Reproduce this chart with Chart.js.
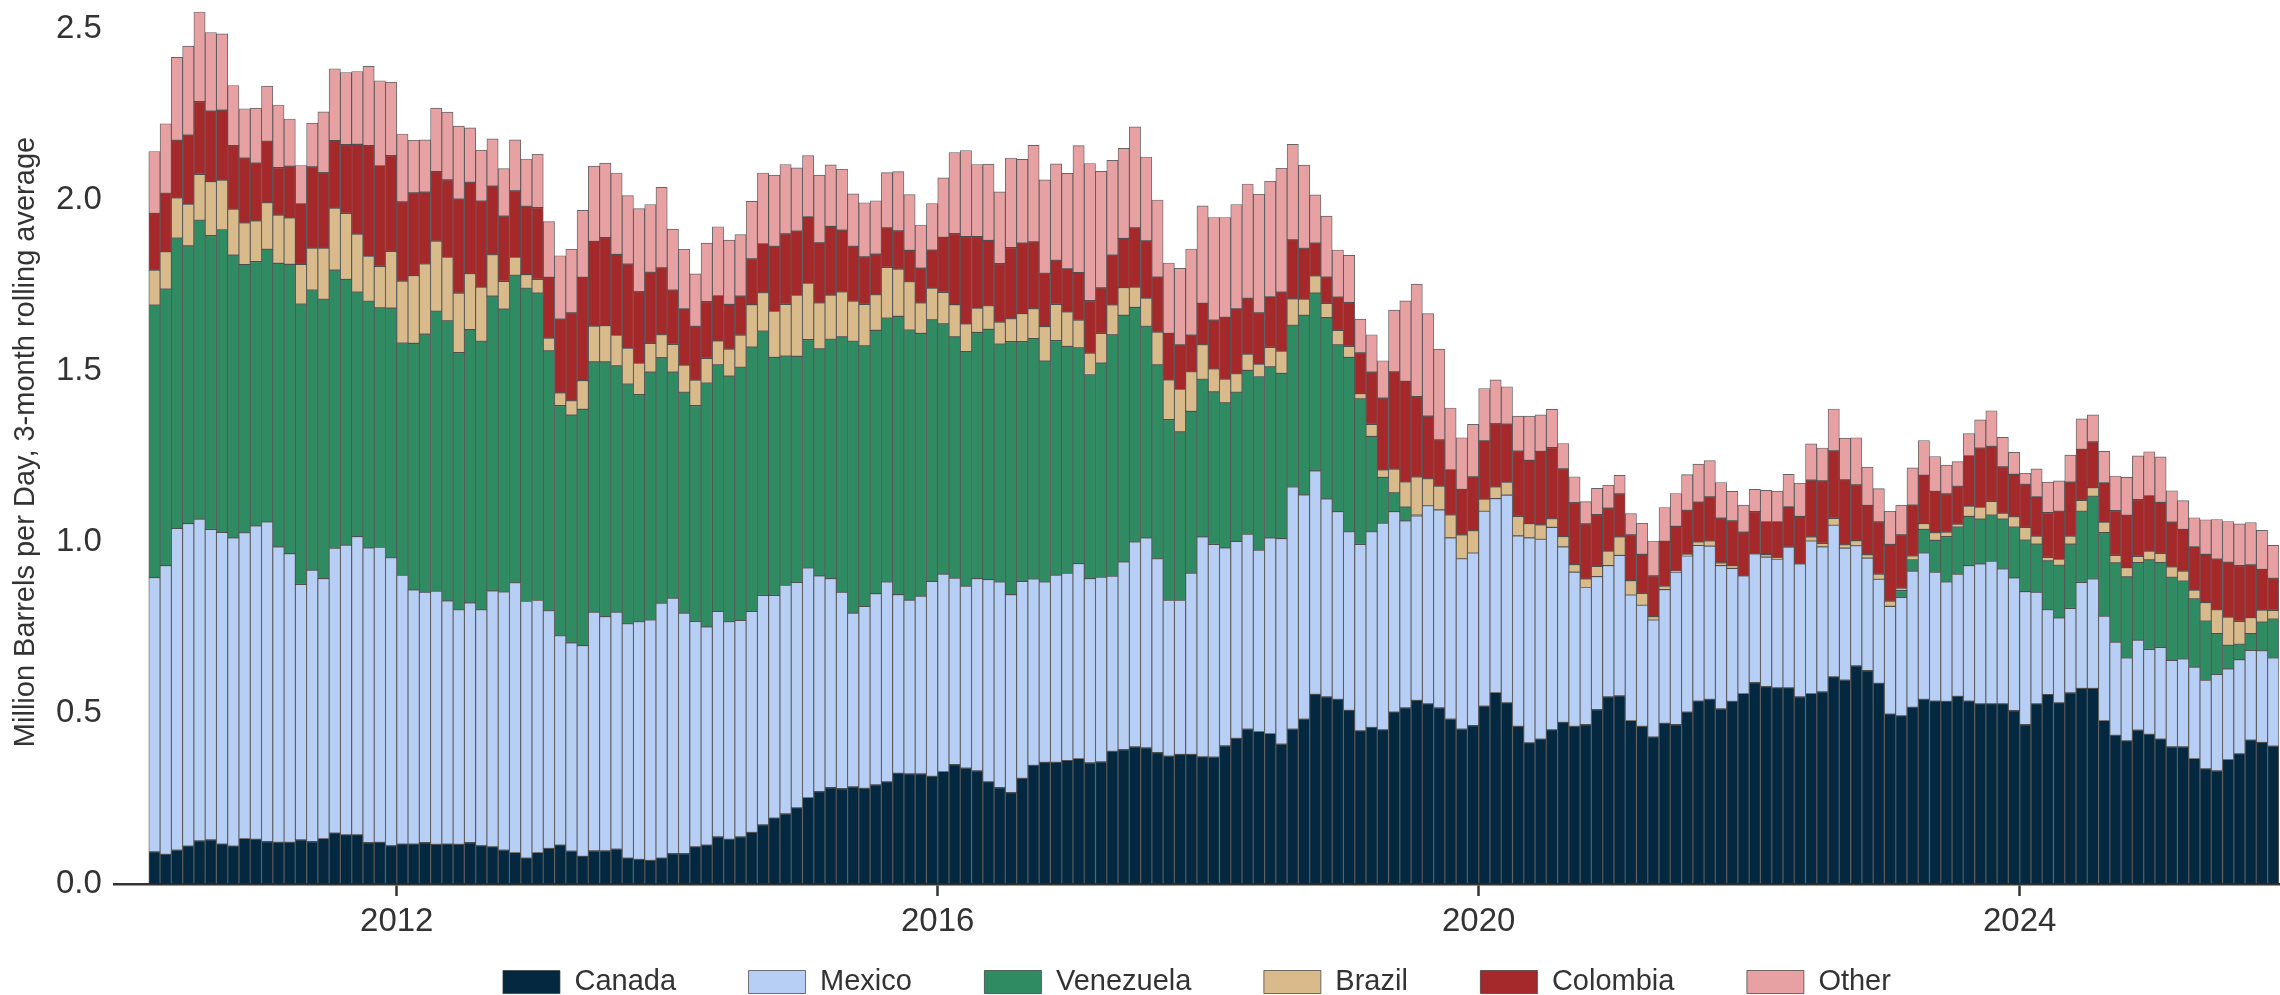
<!DOCTYPE html>
<html>
<head>
<meta charset="utf-8">
<script src="https://cdn.jsdelivr.net/npm/chart.js@4/dist/chart.umd.min.js"></script>
<style>
  html, body { margin: 0; padding: 0; background: #fff; }
  #wrap { width: 2280px; height: 995px; }
</style>
</head>
<body>
<div id="wrap"><canvas id="chart"></canvas></div>
<script>
// monthly, 3-month rolling average, million barrels per day
const months = [
  '2010-03','2010-04','2010-05','2010-06','2010-07','2010-08','2010-09','2010-10','2010-11','2010-12',
  '2011-01','2011-02','2011-03','2011-04','2011-05','2011-06','2011-07','2011-08','2011-09','2011-10','2011-11','2011-12',
  '2012-01','2012-02','2012-03','2012-04','2012-05','2012-06','2012-07','2012-08','2012-09','2012-10','2012-11','2012-12',
  '2013-01','2013-02','2013-03','2013-04','2013-05','2013-06','2013-07','2013-08','2013-09','2013-10','2013-11','2013-12',
  '2014-01','2014-02','2014-03','2014-04','2014-05','2014-06','2014-07','2014-08','2014-09','2014-10','2014-11','2014-12',
  '2015-01','2015-02','2015-03','2015-04','2015-05','2015-06','2015-07','2015-08','2015-09','2015-10','2015-11','2015-12',
  '2016-01','2016-02','2016-03','2016-04','2016-05','2016-06','2016-07','2016-08','2016-09','2016-10','2016-11','2016-12',
  '2017-01','2017-02','2017-03','2017-04','2017-05','2017-06','2017-07','2017-08','2017-09','2017-10','2017-11','2017-12',
  '2018-01','2018-02','2018-03','2018-04','2018-05','2018-06','2018-07','2018-08','2018-09','2018-10','2018-11','2018-12',
  '2019-01','2019-02','2019-03','2019-04','2019-05','2019-06','2019-07','2019-08','2019-09','2019-10','2019-11','2019-12',
  '2020-01','2020-02','2020-03','2020-04','2020-05','2020-06','2020-07','2020-08','2020-09','2020-10','2020-11','2020-12',
  '2021-01','2021-02','2021-03','2021-04','2021-05','2021-06','2021-07','2021-08','2021-09','2021-10','2021-11','2021-12',
  '2022-01','2022-02','2022-03','2022-04','2022-05','2022-06','2022-07','2022-08','2022-09','2022-10','2022-11','2022-12',
  '2023-01','2023-02','2023-03','2023-04','2023-05','2023-06','2023-07','2023-08','2023-09','2023-10','2023-11','2023-12',
  '2024-01','2024-02','2024-03','2024-04','2024-05','2024-06','2024-07','2024-08','2024-09','2024-10','2024-11','2024-12',
  '2025-01','2025-02','2025-03','2025-04','2025-05','2025-06','2025-07','2025-08','2025-09','2025-10','2025-11'
];

const canada = [
  .094,.087,.099,.111,.126,.129,.117,.111,.133,.131,
  .124,.122,.122,.129,.124,.133,.149,.144,.144,.121,.122,.112,
  .117,.117,.121,.116,.117,.116,.121,.112,.109,.099,.092,.076,
  .092,.104,.114,.096,.081,.097,.097,.102,.076,.072,.069,.076,
  .089,.089,.109,.114,.138,.131,.138,.151,.173,.193,.205,.223,
  .253,.270,.282,.279,.284,.280,.290,.299,.324,.322,.322,.315,
  .329,.349,.339,.331,.299,.282,.267,.309,.347,.356,.356,.361,
  .367,.354,.357,.388,.393,.401,.398,.384,.374,.379,.379,.372,
  .371,.404,.426,.453,.446,.440,.409,.453,.482,.555,.547,.540,
  .508,.448,.458,.451,.503,.515,.537,.527,.515,.482,.453,.463,
  .520,.560,.530,.461,.413,.424,.451,.473,.461,.466,.510,.547,
  .550,.478,.461,.430,.470,.466,.503,.535,.540,.512,.534,.557,
  .589,.577,.574,.574,.547,.557,.562,.606,.596,.638,.624,.587,
  .497,.492,.517,.540,.535,.534,.549,.535,.527,.527,.527,.507,
  .466,.527,.554,.530,.559,.572,.572,.478,.435,.419,.450,.438,
  .424,.401,.401,.367,.337,.331,.364,.381,.421,.414,.403
];
const mexico = [
  .802,.844,.941,.943,.941,.908,.911,.901,.894,.916,
  .935,.864,.844,.747,.794,.760,.832,.847,.872,.862,.862,.842,
  .785,.743,.732,.740,.711,.686,.701,.690,.748,.755,.789,.750,
  .737,.695,.612,.609,.616,.698,.685,.693,.685,.695,.703,.745,
  .747,.703,.659,.638,.659,.636,.633,.646,.671,.651,.668,.659,
  .671,.631,.611,.574,.508,.532,.559,.584,.522,.508,.520,.570,
  .577,.545,.532,.562,.591,.601,.579,.576,.545,.527,.547,.547,
  .570,.539,.540,.512,.549,.599,.614,.567,.455,.450,.530,.643,
  .622,.579,.576,.569,.530,.572,.601,.708,.656,.653,.579,.549,
  .522,.545,.572,.604,.586,.547,.539,.579,.579,.530,.498,.505,
  .570,.567,.607,.557,.599,.584,.592,.513,.451,.401,.389,.384,
  .411,.367,.354,.342,.391,.446,.456,.455,.448,.419,.389,.344,
  .376,.379,.376,.411,.389,.446,.424,.443,.386,.351,.329,.304,
  .315,.346,.398,.428,.376,.349,.356,.396,.409,.416,.394,.388,
  .389,.326,.248,.248,.247,.310,.320,.305,.272,.242,.263,.248,
  .268,.253,.257,.267,.258,.282,.265,.275,.262,.268,.258
];
const venezuela = [
  .797,.809,.849,.812,.874,.859,.886,.827,.784,.773,
  .797,.829,.846,.820,.819,.817,.814,.777,.715,.721,.701,.730,
  .680,.721,.755,.819,.819,.752,.799,.785,.862,.827,.899,.916,
  .899,.760,.673,.666,.691,.732,.745,.720,.701,.664,.725,.718,
  .661,.646,.631,.713,.721,.718,.740,.773,.773,.696,.671,.661,
  .668,.664,.700,.747,.795,.762,.770,.772,.814,.790,.768,.765,
  .732,.706,.686,.720,.732,.696,.740,.701,.703,.646,.686,.664,
  .631,.597,.626,.706,.721,.686,.619,.567,.529,.493,.473,.461,
  .446,.424,.436,.480,.508,.500,.483,.473,.525,.520,.530,.488,
  .510,.426,.279,.134,.055,.040,.003,0,0,0,0,0,
  0,0,0,0,0,0,0,0,0,0,0,0,
  0,0,0,0,0,0,0,0,0,0,0,0,
  0,0,0,0,0,0,0,0,0,0,0,0,
  0,.020,.034,.069,.094,.133,.139,.144,.131,.136,.146,.149,
  .151,.141,.143,.154,.188,.208,.242,.245,.232,.237,.227,.262,
  .248,.243,.228,.200,.174,.119,.069,.045,.049,.084,.114
];
const brazil = [
  .102,.109,.117,.121,.134,.158,.144,.134,.122,.119,
  .136,.141,.136,.116,.122,.149,.181,.193,.169,.131,.121,.166,
  .181,.198,.205,.205,.185,.174,.164,.158,.121,.081,.052,.040,
  .040,.037,.037,.042,.084,.104,.106,.089,.104,.091,.084,.067,
  .081,.079,.074,.072,.070,.079,.094,.124,.112,.134,.151,.178,
  .164,.134,.129,.131,.117,.121,.104,.148,.138,.141,.089,.092,
  .092,.094,.081,.070,.069,.064,.067,.082,.087,.101,.106,.101,
  .081,.062,.087,.087,.081,.059,.081,.096,.116,.124,.116,.101,
  .067,.069,.054,.047,.035,.057,.065,.077,.047,.050,.042,.042,
  .032,.015,.035,.022,.069,.074,.111,.079,.069,.067,.070,.065,
  .035,.034,.037,.057,.042,.042,.025,.030,.022,.025,.030,.042,
  .054,.042,.035,.010,.010,.003,.005,.010,.015,.008,.008,0,
  0,.007,.003,0,0,.012,.010,.020,.010,.015,.010,.015,
  .015,.007,.010,.017,.022,.013,.008,.029,.034,.040,.017,.030,
  .037,.023,.010,.017,.023,.032,.025,.029,.022,.027,.018,.025,
  .027,.030,.029,.025,.054,.070,.082,.067,.047,.035,.025
];
const colombia = [
  .166,.171,.169,.203,.213,.206,.205,.186,.190,.169,
  .180,.139,.151,.178,.238,.221,.198,.201,.263,.324,.295,.280,
  .232,.242,.210,.203,.227,.275,.267,.252,.201,.191,.195,.200,
  .210,.178,.216,.257,.302,.248,.257,.237,.247,.210,.208,.196,
  .159,.166,.158,.166,.133,.131,.114,.134,.144,.191,.206,.188,
  .196,.176,.201,.181,.161,.139,.119,.116,.112,.092,.102,.112,
  .161,.208,.255,.210,.191,.171,.208,.206,.196,.156,.129,.126,
  .139,.154,.133,.146,.144,.174,.169,.161,.136,.131,.107,.121,
  .143,.181,.190,.164,.151,.149,.173,.173,.149,.096,.077,.097,
  .128,.119,.153,.210,.285,.294,.235,.183,.136,.133,.133,.158,
  .171,.185,.171,.191,.185,.215,.208,.198,.181,.161,.151,.126,
  .126,.134,.114,.119,.131,.131,.129,.117,.129,.131,.131,.128,
  .124,.097,.107,.119,.139,.166,.183,.198,.190,.163,.144,.153,
  .166,.156,.149,.141,.121,.112,.111,.149,.174,.161,.136,.124,
  .126,.116,.131,.141,.158,.149,.134,.117,.131,.153,.166,.163,
  .149,.131,.122,.128,.141,.148,.161,.163,.154,.119,.094
];
const other = [
  .181,.203,.242,.260,.262,.230,.223,.176,.144,.161,
  .161,.183,.138,.111,.128,.178,.210,.211,.213,.232,.248,.215,
  .198,.154,.153,.186,.198,.213,.159,.149,.138,.139,.149,.138,
  .156,.163,.185,.186,.196,.220,.218,.238,.200,.243,.198,.235,
  .178,.173,.153,.171,.201,.188,.180,.168,.206,.208,.203,.185,
  .178,.198,.180,.178,.153,.158,.156,.161,.173,.163,.126,.136,
  .174,.237,.252,.211,.223,.210,.262,.245,.282,.273,.282,.279,
  .371,.401,.341,.277,.263,.295,.245,.225,.206,.223,.252,.285,
  .300,.292,.305,.334,.347,.337,.362,.279,.243,.141,.178,.138,
  .138,.099,.109,.109,.180,.235,.329,.300,.265,.180,.151,.153,
  .153,.128,.109,.102,.129,.107,.112,.074,.076,.065,.077,.067,
  .054,.062,.091,.102,.099,.096,.104,.111,.106,.104,.086,.079,
  .065,.091,.089,.094,.097,.106,.096,.122,.122,.138,.112,.097,
  .097,.087,.109,.102,.102,.084,.072,.064,.082,.104,.086,.064,
  .032,.081,.089,.089,.079,.089,.079,.091,.101,.111,.128,.128,
  .133,.092,.084,.084,.101,.116,.119,.122,.124,.114,.096
];

const yearTicks = ['2012', '2016', '2020', '2024'];
const yTicks = [0, 0.5, 1.0, 1.5, 2.0, 2.5];

const FONT = "'Liberation Sans', Arial, sans-serif";
const TEXT = '#333333';
const BASE_YEAR = 2010;

// month -> position on a linear axis (months since Jan 2010, bar centred mid-month)
const monthPos = months.map((m) => {
  const [y, mo] = m.split('-').map(Number);
  return (y - BASE_YEAR) * 12 + (mo - 1) + 0.5;
});
const yearPos = {};
yearTicks.forEach((y) => { yearPos[(Number(y) - BASE_YEAR) * 12] = y; });

// legend sits under the axes (centred on the plot, like the original)
const legendRowTop = 967.5;
const legendUnderAxes = {
  id: 'legendUnderAxes',
  afterLayout(chart) {
    const lg = chart.legend;
    lg.left = chart.chartArea.left;
    lg.right = chart.chartArea.right;
    lg.top = legendRowTop - lg.options.labels.padding;
  }
};

new Chart(document.getElementById('chart'), {
  type: 'bar',
  data: {
    labels: monthPos,
    datasets: [
      { label: 'Canada', data: canada, backgroundColor: '#03283f' },
      { label: 'Mexico', data: mexico, backgroundColor: '#b8cff5' },
      { label: 'Venezuela', data: venezuela, backgroundColor: '#2e8b62' },
      { label: 'Brazil', data: brazil, backgroundColor: '#d9bb8b' },
      { label: 'Colombia', data: colombia, backgroundColor: '#a5292a' },
      { label: 'Other', data: other, backgroundColor: '#e8a1a3' }
    ]
  },
  options: {
    responsive: true,
    maintainAspectRatio: false,
    animation: false,
    datasets: {
      bar: {
        categoryPercentage: 1,
        barPercentage: 1,
        borderWidth: 0.9,
        borderColor: 'rgba(50,50,50,0.75)',
        borderSkipped: false
      }
    },
    scales: {
      x: {
        type: 'linear',
        stacked: true,
        offset: false,
        min: -1.1,
        max: 191.1,
        afterBuildTicks: (scale) => {
          scale.ticks = Object.keys(yearPos).map((v) => ({ value: Number(v) }));
        },
        ticks: {
          callback: (v) => yearPos[v],
          font: { family: FONT, size: 33 },
          color: TEXT,
          padding: 6,
          maxRotation: 0,
          autoSkip: false
        },
        grid: {
          display: true,
          offset: false,
          drawOnChartArea: false,
          drawTicks: true,
          tickLength: 12,
          tickWidth: 2.5,
          tickColor: '#333'
        },
        border: { display: true, color: '#333', width: 2.5 }
      },
      y: {
        stacked: true,
        min: 0,
        max: 2.585,
        afterBuildTicks: (scale) => {
          scale.ticks = yTicks.map((v) => ({ value: v }));
        },
        afterFit: (scale) => { scale.paddingTop = 0; },
        ticks: {
          callback: (v) => v.toFixed(1),
          font: { family: FONT, size: 33 },
          color: TEXT,
          padding: 12
        },
        grid: { display: false, drawTicks: false },
        border: { display: false },
        title: {
          display: true,
          text: 'Million Barrels per Day, 3-month rolling average',
          font: { family: FONT, size: 29 },
          color: TEXT,
          padding: { top: 8.6, bottom: 0.6 }
        }
      }
    },
    plugins: {
      legend: {
        position: 'bottom',
        maxHeight: 47.4,
        labels: {
          font: { family: FONT, size: 29 },
          color: TEXT,
          boxWidth: 57,
          boxHeight: 23,
          padding: 72.5
        }
      },
      tooltip: { enabled: false }
    }
  },
  plugins: [legendUnderAxes]
});
</script>
</body>
</html>
